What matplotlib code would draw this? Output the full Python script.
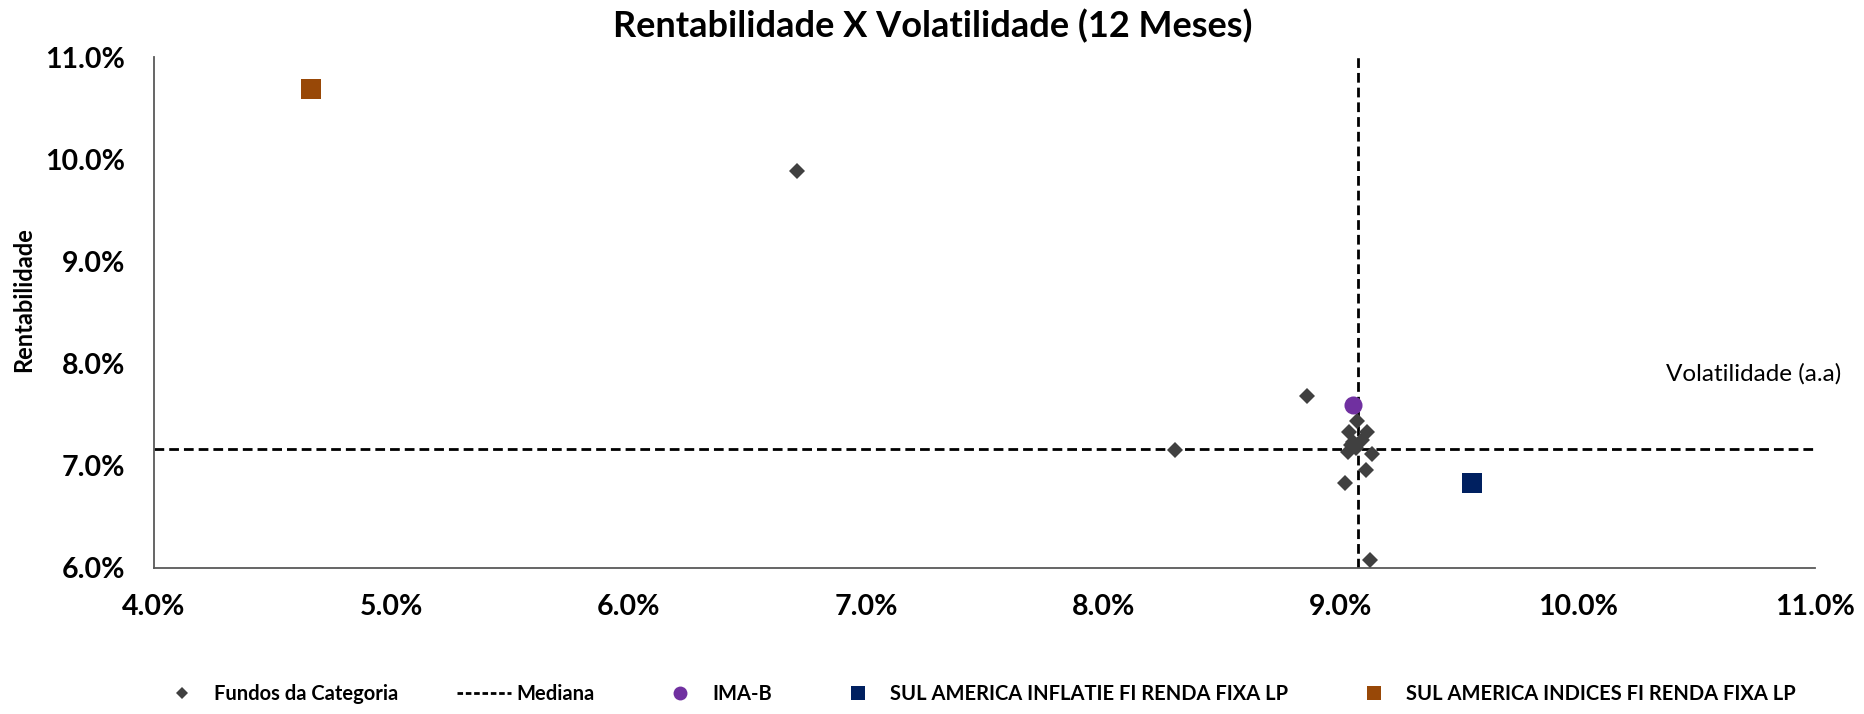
#!/usr/bin/env python3
import matplotlib

matplotlib.use("Agg")
import matplotlib.pyplot as plt
from matplotlib.lines import Line2D
from matplotlib.ticker import FuncFormatter


# volatility (x) and return (y), in percent
fundos_vol = [6.708, 8.303, 8.860, 9.070, 9.036, 9.113, 9.053, 9.089,
              9.066, 9.043, 9.033, 9.135, 9.107, 9.021, 9.124]
fundos_ret = [9.890, 7.157, 7.681, 7.435, 7.327, 7.327, 7.238, 7.255,
              7.180, 7.200, 7.140, 7.114, 6.961, 6.836, 6.080]

imab_vol = [9.053]
imab_ret = [7.599]

inflatie_vol = [9.556]
inflatie_ret = [6.829]

indices_vol = [4.662]
indices_ret = [10.696]

mediana_vol = 9.072
mediana_ret = 7.163

x_ticks = [4, 5, 6, 7, 8, 9, 10, 11]
y_ticks = [6, 7, 8, 9, 10, 11]

GRAY = "#404040"
PURPLE = "#7030A0"
NAVY = "#002060"
ORANGE = "#984807"


def main():
    plt.rcParams["font.family"] = ["Lato", "DejaVu Sans"]

    fig = plt.figure(figsize=(18.65, 7.14), dpi=100)
    ax = fig.add_axes([0.0826, 0.2045, 0.8906, 0.715])

    dash = (0, (3.5, 1.8))
    ax.plot([x_ticks[0], x_ticks[-1]], [mediana_ret, mediana_ret],
            color="black", lw=2, ls=dash, zorder=2)
    ax.plot([mediana_vol, mediana_vol], [y_ticks[0], y_ticks[-1]],
            color="black", lw=2, ls=dash, zorder=2)

    ax.plot(fundos_vol, fundos_ret, "D", color=GRAY, ms=8.5, mew=0, zorder=3)
    ax.plot(imab_vol, imab_ret, "o", color=PURPLE, ms=13, mew=0, zorder=4)
    ax.plot(inflatie_vol, inflatie_ret, "s", color=NAVY, ms=14, mew=0, zorder=4)
    ax.plot(indices_vol, indices_ret, "s", color=ORANGE, ms=14, mew=0, zorder=4)

    ax.set_xlim(x_ticks[0], x_ticks[-1])
    ax.set_ylim(y_ticks[0], y_ticks[-1])
    ax.set_xticks(x_ticks)
    ax.set_yticks(y_ticks)
    pct = FuncFormatter(lambda v, _: f"{v:.1f}%")
    ax.xaxis.set_major_formatter(pct)
    ax.yaxis.set_major_formatter(pct)
    ax.tick_params(length=0, labelsize=20.5)
    ax.tick_params(axis="x", pad=19)
    ax.tick_params(axis="y", pad=21)
    for label in ax.get_xticklabels() + ax.get_yticklabels():
        label.set_fontweight("bold")

    for side in ("top", "right"):
        ax.spines[side].set_visible(False)
    for side in ("left", "bottom"):
        ax.spines[side].set_color("#595959")
        ax.spines[side].set_linewidth(1.3)

    ax.text(11.11, 7.9, "Volatilidade (a.a)", ha="right", va="center",
            fontsize=17.5, clip_on=False)
    fig.text(0.0125, 0.58, "Rentabilidade", rotation=90, ha="center",
             va="center", fontsize=17, fontweight="bold")
    fig.suptitle("Rentabilidade X Volatilidade (12 Meses)", x=0.5, y=0.963,
                 va="center", fontsize=26, fontweight="bold")

    handles = [
        Line2D([], [], ls="none", marker="D", color=GRAY, ms=6.5, mew=0),
        Line2D([], [], color="black", lw=2, ls=(0, (2, 1))),
        Line2D([], [], ls="none", marker="o", color=PURPLE, ms=10, mew=0),
        Line2D([], [], ls="none", marker="s", color=NAVY, ms=10, mew=0),
        Line2D([], [], ls="none", marker="s", color=ORANGE, ms=10, mew=0),
    ]
    labels = [
        "Fundos da Categoria",
        "Mediana",
        "IMA-B",
        "SUL AMERICA INFLATIE FI RENDA FIXA LP",
        "SUL AMERICA INDICES FI RENDA FIXA LP",
    ]
    fig.legend(handles, labels, loc="center", ncol=5, frameon=False,
               bbox_to_anchor=(0.523, 0.028), handlelength=2.7,
               handletextpad=0.25, columnspacing=2.9,
               prop={"size": 14.5, "weight": "bold"})

    fig.savefig("out.png", dpi=100)


if __name__ == "__main__":
    main()
